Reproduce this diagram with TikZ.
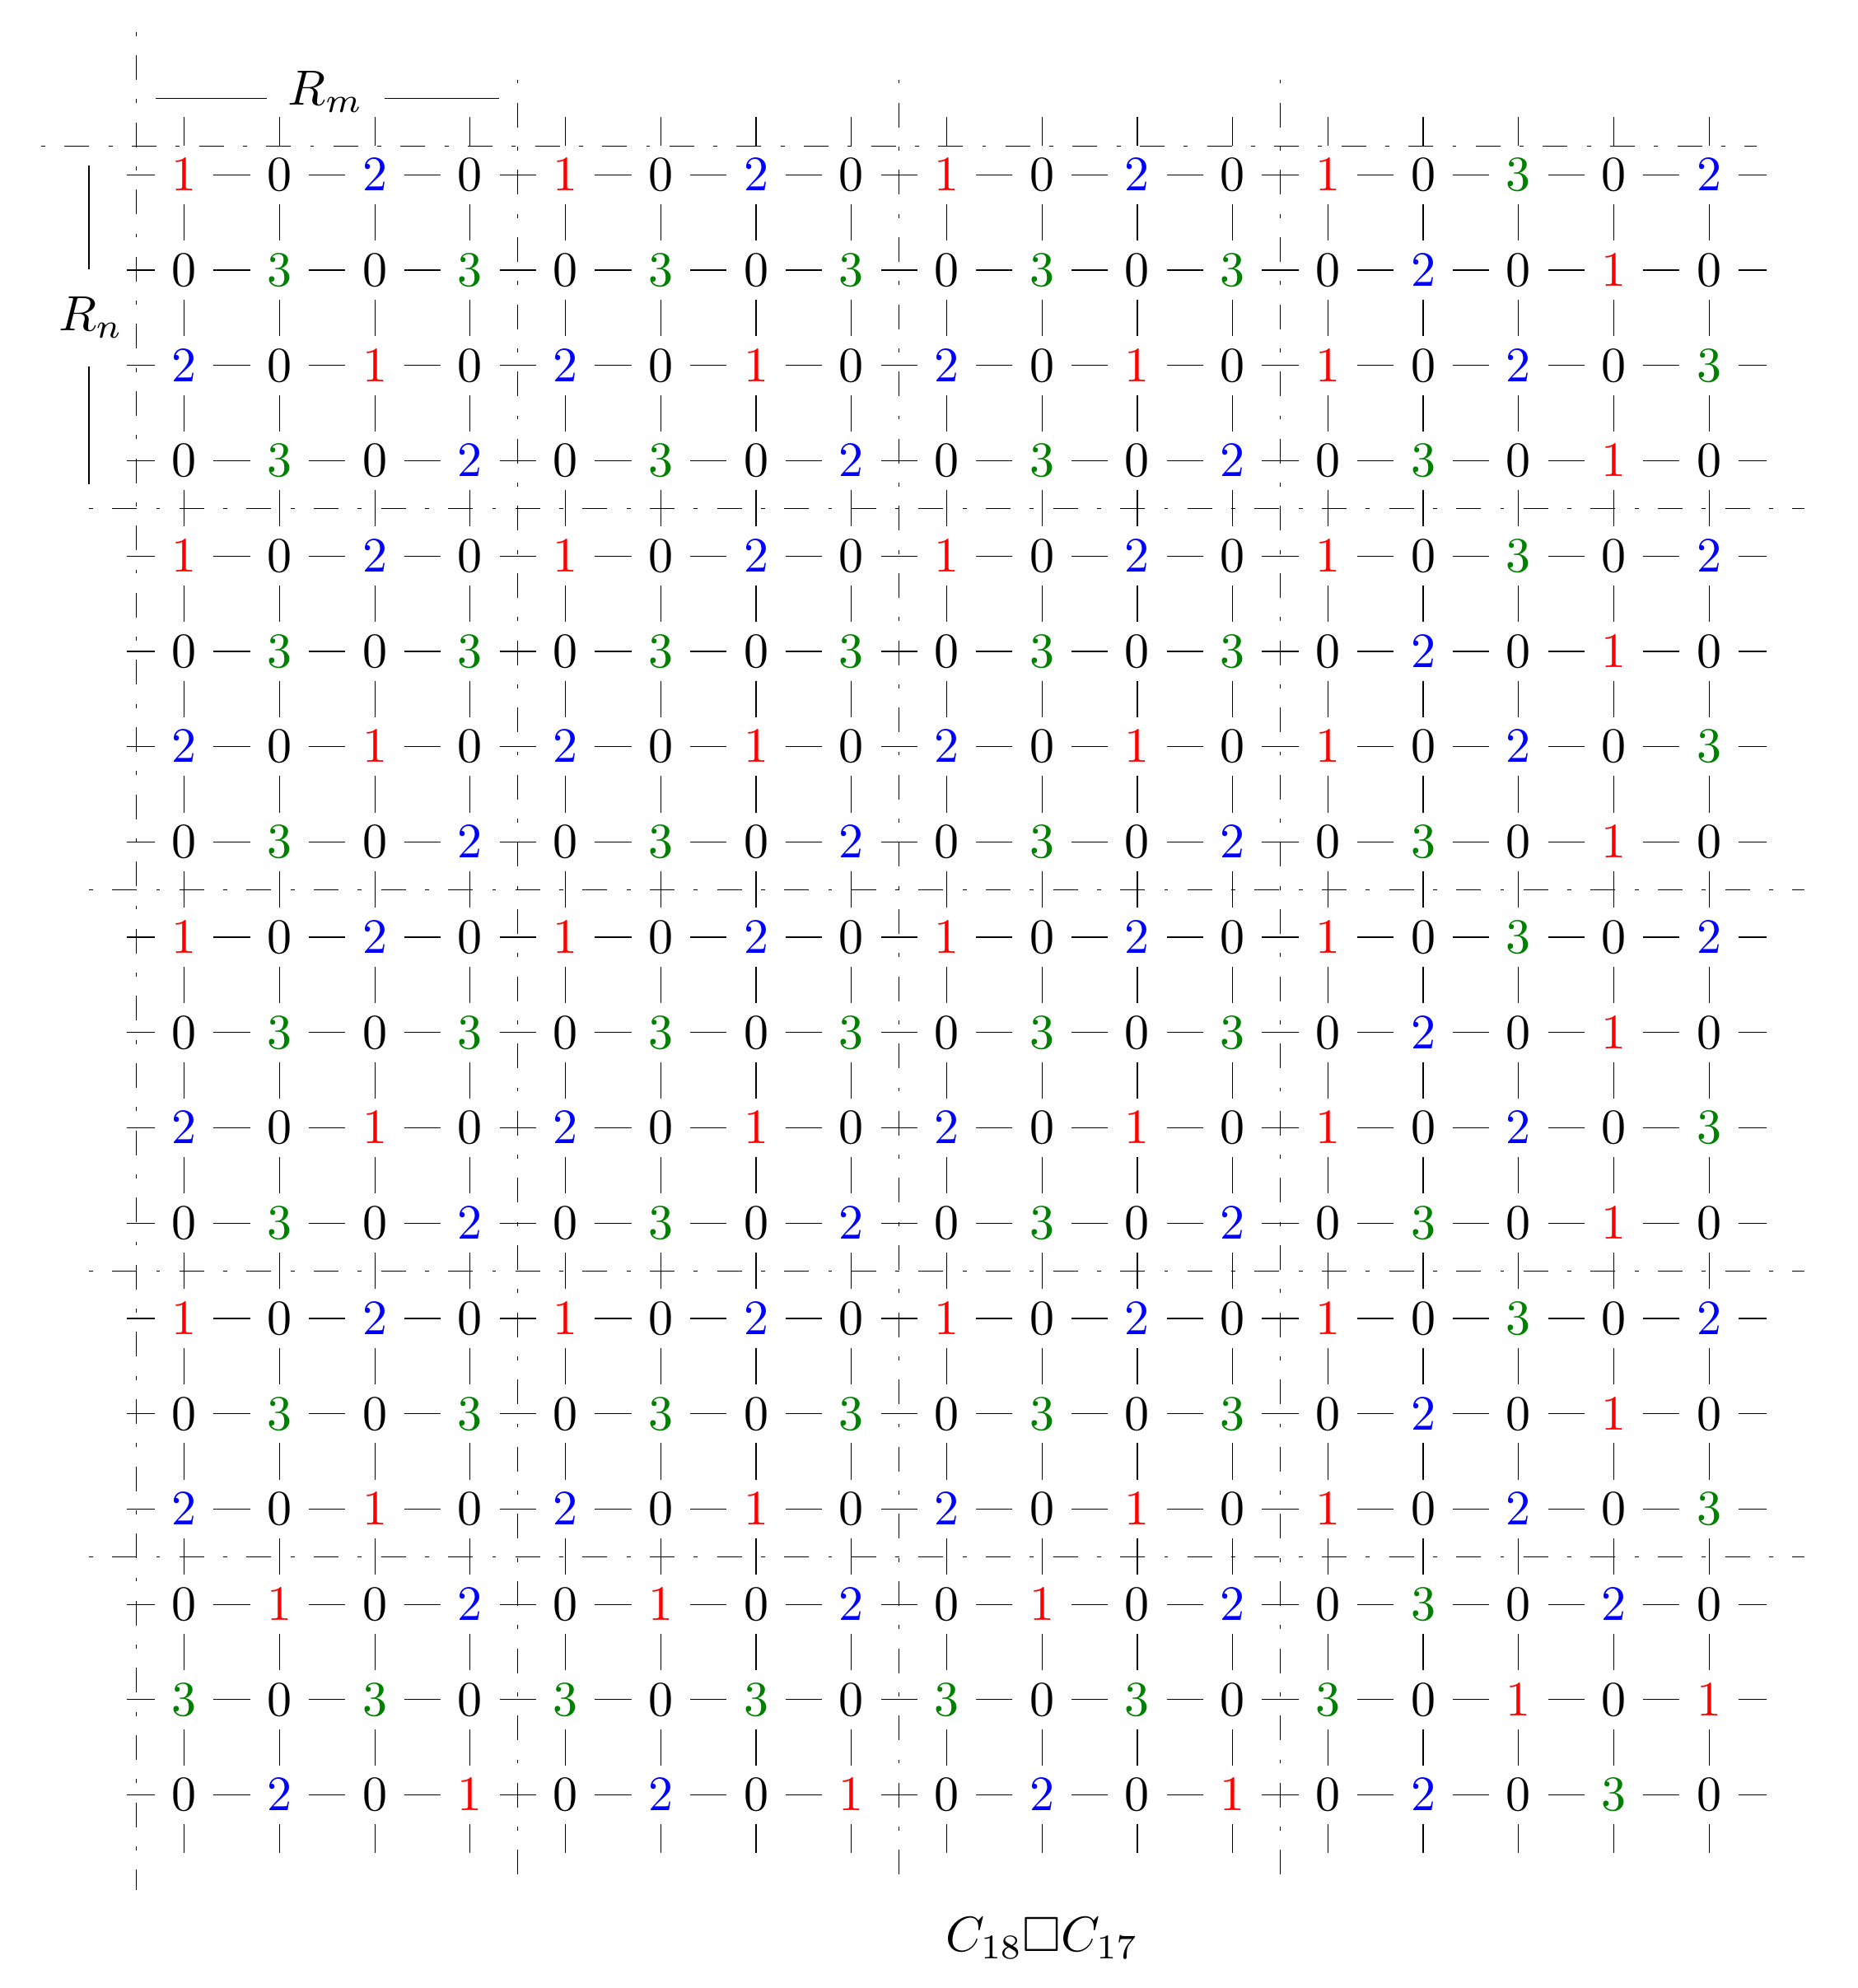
\documentclass[tikz,border=0pt]{standalone}
\usepackage{amssymb}
\begin{document}
\begin{tikzpicture}[x=19.287pt, y=-19.287pt,
  vtx/.style={circle, inner sep=0pt, minimum size=11.53pt},
  v0/.style={text=black},
  v1/.style={text=red},
  v2/.style={text=blue},
  v3/.style={text=green!50!black},
  edge/.style={line width=0.2pt},
  part/.style={line width=0.2pt, dash pattern=on 0.8pt off 3.9pt on 5pt off 3.9pt},
  lbl/.style={inner sep=0pt}]
\useasboundingbox (-0.9331,-0.8346) rectangle (18.5623,20.0261);

% partition lines
\coordinate (pv0a) at (0.5,-0.5);  \coordinate (pv0b) at (0.5,19);
\draw[part] (pv0a) -- (pv0b);
\foreach \x [count=\k] in {4.5,8.5,12.5}{
  \coordinate (pva-\k) at (\x,0); \coordinate (pvb-\k) at (\x,19);
  \draw[part] (pva-\k) -- (pvb-\k);
}
\coordinate (ph0a) at (-0.5,0.7); \coordinate (ph0b) at (17.5,0.7);
\draw[part] (ph0a) -- (ph0b);
\foreach \y [count=\k] in {4.5,8.5,12.5,15.5}{
  \coordinate (pha-\k) at (0,\y); \coordinate (phb-\k) at (18,\y);
  \draw[part] (pha-\k) -- (phb-\k);
}

% vertices
\foreach \r/\lst in {
  1/{1,0,2,0,1,0,2,0,1,0,2,0,1,0,3,0,2},
  2/{0,3,0,3,0,3,0,3,0,3,0,3,0,2,0,1,0},
  3/{2,0,1,0,2,0,1,0,2,0,1,0,1,0,2,0,3},
  4/{0,3,0,2,0,3,0,2,0,3,0,2,0,3,0,1,0},
  5/{1,0,2,0,1,0,2,0,1,0,2,0,1,0,3,0,2},
  6/{0,3,0,3,0,3,0,3,0,3,0,3,0,2,0,1,0},
  7/{2,0,1,0,2,0,1,0,2,0,1,0,1,0,2,0,3},
  8/{0,3,0,2,0,3,0,2,0,3,0,2,0,3,0,1,0},
  9/{1,0,2,0,1,0,2,0,1,0,2,0,1,0,3,0,2},
  10/{0,3,0,3,0,3,0,3,0,3,0,3,0,2,0,1,0},
  11/{2,0,1,0,2,0,1,0,2,0,1,0,1,0,2,0,3},
  12/{0,3,0,2,0,3,0,2,0,3,0,2,0,3,0,1,0},
  13/{1,0,2,0,1,0,2,0,1,0,2,0,1,0,3,0,2},
  14/{0,3,0,3,0,3,0,3,0,3,0,3,0,2,0,1,0},
  15/{2,0,1,0,2,0,1,0,2,0,1,0,1,0,2,0,3},
  16/{0,1,0,2,0,1,0,2,0,1,0,2,0,3,0,2,0},
  17/{3,0,3,0,3,0,3,0,3,0,3,0,3,0,1,0,1},
  18/{0,2,0,1,0,2,0,1,0,2,0,1,0,2,0,3,0}}{
  \foreach \v [count=\c] in \lst {
    \node[vtx, v\v] (n-\r-\c) at (\c,\r) {$\v$};
  }
}

% horizontal edges
\foreach \r in {1,...,18}{
  \foreach \c in {1,...,16}{
    \pgfmathtruncatemacro{\cn}{\c+1}
    \draw[edge] (n-\r-\c) -- (n-\r-\cn);
  }
  \coordinate (sl-\r) at (0.395,\r);
  \coordinate (sr-\r) at (17.605,\r);
  \draw[edge] (sl-\r) -- (n-\r-1);
  \draw[edge] (n-\r-17) -- (sr-\r);
}
% vertical edges
\foreach \c in {1,...,17}{
  \foreach \r in {1,...,17}{
    \pgfmathtruncatemacro{\rn}{\r+1}
    \draw[edge] (n-\r-\c) -- (n-\rn-\c);
  }
  \coordinate (st-\c) at (\c,0.395);
  \coordinate (sb-\c) at (\c,18.605);
  \draw[edge] (st-\c) -- (n-1-\c);
  \draw[edge] (n-18-\c) -- (sb-\c);
}

% R_m label
\node[lbl, minimum width=23.46pt, minimum height=12pt] (Rm) at (2.483,0.133) {$R_m$};
\coordinate (rmL) at (0.7,0.2);
\coordinate (rmR) at (4.3,0.2);
\draw[edge] (rmL) -- (rmL -| Rm.west);
\draw[edge] (rmR -| Rm.east) -- (rmR);

% R_n label
\node[lbl, minimum height=19.287pt] (Rn) at (0.02,2.5) {$R_n$};
\coordinate (rnT) at (0,0.9);
\coordinate (rnB) at (0,4.25);
\draw[edge] (rnT) -- (rnT |- Rn.north);
\draw[edge] (rnB |- Rn.south) -- (rnB);

% caption
\node (cap) at (10,19.5) {$C_{18}\square C_{17}$};
\end{tikzpicture}
\end{document}
